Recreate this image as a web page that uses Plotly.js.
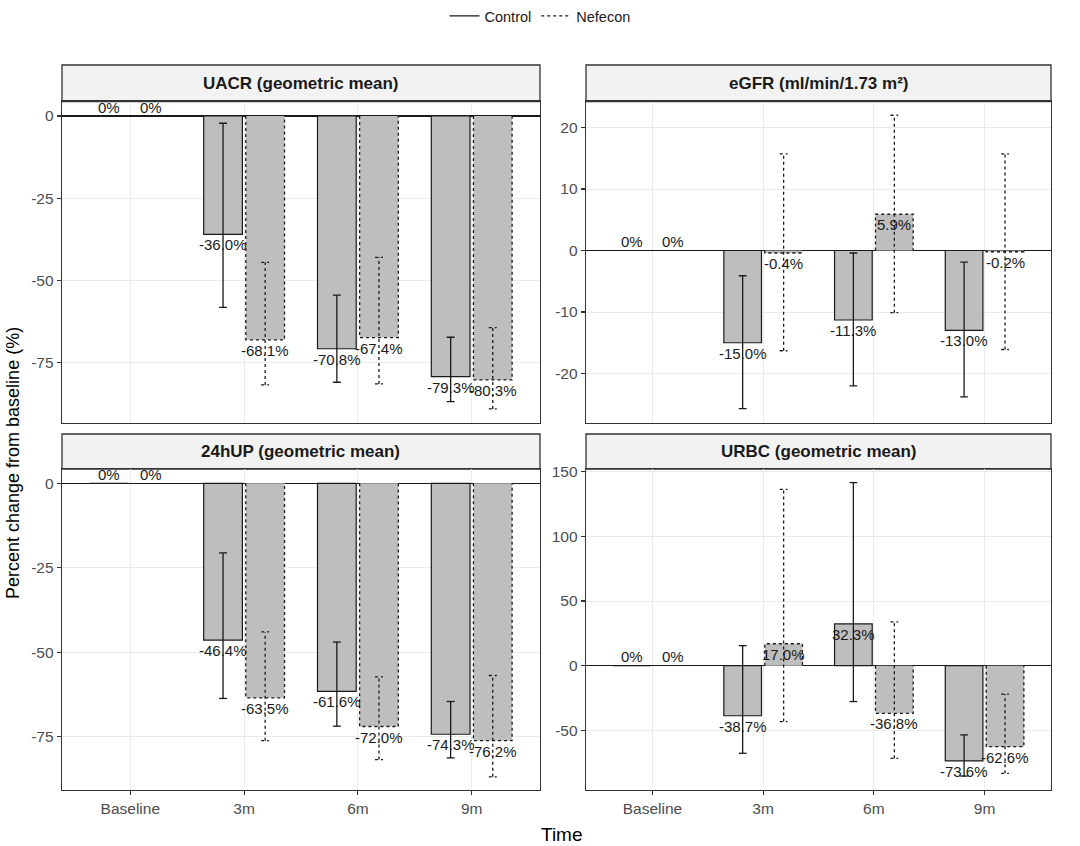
<!DOCTYPE html>
<html>
<head>
<meta charset="utf-8">
<script src="https://cdn.plot.ly/plotly-3.0.1.min.js"></script>
<style>html,body{margin:0;padding:0;background:#fff;}#chart{width:1080px;height:846px;}</style>
</head>
<body>
<div id="chart"></div>
<script>
// ---- data ----
const cats = ['Baseline', '3m', '6m', '9m'];
const panelTitles = ['UACR (geometric mean)', 'eGFR (ml/min/1.73 m\u00b2)', '24hUP (geometric mean)', 'URBC (geometric mean)'];
const seriesNames = ['Control', 'Nefecon'];

const uacrCtrl = [0, -36.0, -70.8, -79.3];
const uacrCtrlLow = [null, -58.2, -81.0, -86.9];
const uacrCtrlHigh = [null, -2.2, -54.5, -67.3];
const uacrNef = [0, -68.1, -67.4, -80.3];
const uacrNefLow = [null, -81.8, -81.5, -89.1];
const uacrNefHigh = [null, -44.5, -43.0, -64.4];

const egfrCtrl = [0, -15.0, -11.3, -13.0];
const egfrCtrlLow = [null, -25.7, -22.0, -23.8];
const egfrCtrlHigh = [null, -4.1, -0.4, -1.9];
const egfrNef = [0, -0.4, 5.9, -0.2];
const egfrNefLow = [null, -16.3, -10.1, -16.1];
const egfrNefHigh = [null, 15.7, 22.0, 15.7];

const upCtrl = [0, -46.4, -61.6, -74.3];
const upCtrlLow = [null, -63.7, -71.9, -81.3];
const upCtrlHigh = [null, -20.6, -47.0, -64.6];
const upNef = [0, -63.5, -72.0, -76.2];
const upNefLow = [null, -76.2, -81.8, -86.9];
const upNefHigh = [null, -44.0, -57.3, -56.9];

const urbcCtrl = [0, -38.7, 32.3, -73.6];
const urbcCtrlLow = [null, -67.7, -27.7, -85.3];
const urbcCtrlHigh = [null, 15.5, 141.6, -53.5];
const urbcNef = [0, 17.0, -36.8, -62.6];
const urbcNefLow = [null, -43.2, -71.6, -83.2];
const urbcNefHigh = [null, 136.4, 33.9, -21.9];

const yTicks = [
  [0, -25, -50, -75],
  [20, 10, 0, -10, -20],
  [0, -25, -50, -75],
  [150, 100, 50, 0, -50]
];

// ---- build ----
const panels = [
  {ctrl: uacrCtrl, cl: uacrCtrlLow, ch: uacrCtrlHigh, nef: uacrNef, nl: uacrNefLow, nh: uacrNefHigh, yr: [-93.3, 4.35]},
  {ctrl: egfrCtrl, cl: egfrCtrlLow, ch: egfrCtrlHigh, nef: egfrNef, nl: egfrNefLow, nh: egfrNefHigh, yr: [-28.0, 24.2]},
  {ctrl: upCtrl, cl: upCtrlLow, ch: upCtrlHigh, nef: upNef, nl: upNefLow, nh: upNefHigh, yr: [-90.8, 4.24]},
  {ctrl: urbcCtrl, cl: urbcCtrlLow, ch: urbcCtrlHigh, nef: urbcNef, nl: urbcNefLow, nh: urbcNefHigh, yr: [-96.1, 152.1]}
];

const W = 1080, H = 846;
const xDom = [[62 / W, 540 / W], [586 / W, 1051 / W], [62 / W, 540 / W], [586 / W, 1051 / W]];
const yDom = [[(H - 422.7) / H, (H - 101.7) / H], [(H - 422.7) / H, (H - 101.7) / H],
              [(H - 790) / H, (H - 469) / H], [(H - 790) / H, (H - 469) / H]];
const stripY = [[(H - 101.7) / H, (H - 65) / H], [(H - 101.7) / H, (H - 65) / H],
                [(H - 469) / H, (H - 434) / H], [(H - 469) / H, (H - 434) / H]];

const OFF = 0.185, BW = 0.34, CAP = 0.035;
const idx = cats.map((c, i) => i);
const barFill = '#bebebe';

const traces = [];
const annotations = [];
const shapes = [];
const layout = {
  width: W, height: H,
  margin: {l: 0, r: 0, t: 0, b: 0},
  paper_bgcolor: '#fff', plot_bgcolor: '#fff',
  font: {family: 'Liberation Sans, Arial, sans-serif', color: '#1a1a1a'},
  barmode: 'overlay',
  showlegend: true,
  legend: {orientation: 'h', x: 0.5, xanchor: 'center', y: 1.0, yanchor: 'top',
           font: {size: 14.5, color: '#1a1a1a'}, itemwidth: 30, traceorder: 'normal'},
  annotations: annotations,
  shapes: shapes
};

function errPath(xs, lo, hi) {
  const x = [], y = [];
  xs.forEach((xc, i) => {
    if (lo[i] === null || hi[i] === null) return;
    x.push(xc, xc, null, xc - CAP, xc + CAP, null, xc - CAP, xc + CAP, null);
    y.push(lo[i], hi[i], null, hi[i], hi[i], null, lo[i], lo[i], null);
  });
  return {x, y};
}

function outlinePath(xs, vals) {
  const x = [], y = [];
  xs.forEach((xc, i) => {
    if (vals[i] === 0) return;
    const a = xc - BW / 2, b = xc + BW / 2;
    x.push(a, a, b, b, null);
    y.push(0, vals[i], vals[i], 0, null);
  });
  return {x, y};
}

function fmt(v) { return v === 0 ? '0%' : v.toFixed(1) + '%'; }

panels.forEach((p, k) => {
  const sfx = k === 0 ? '' : String(k + 1);
  const xa = 'x' + sfx, ya = 'y' + sfx;
  const xc = idx.map(i => i - OFF);
  const xn = idx.map(i => i + OFF);

  traces.push({type: 'bar', x: xc, y: p.ctrl, width: BW, xaxis: xa, yaxis: ya,
    marker: {color: barFill, line: {color: '#1a1a1a', width: 1.2}}, showlegend: false, hoverinfo: 'y', name: seriesNames[0]});
  traces.push({type: 'bar', x: xn, y: p.nef, width: BW, xaxis: xa, yaxis: ya,
    marker: {color: barFill, line: {color: barFill, width: 0}}, showlegend: false, hoverinfo: 'y', name: seriesNames[1]});

  const ol = outlinePath(xn, p.nef);
  traces.push({type: 'scatter', mode: 'lines', x: ol.x, y: ol.y, xaxis: xa, yaxis: ya,
    line: {color: '#1a1a1a', width: 1.3, dash: 'dot'}, showlegend: false, hoverinfo: 'skip', connectgaps: false});

  const ec = errPath(xc, p.cl, p.ch);
  traces.push({type: 'scatter', mode: 'lines', x: ec.x, y: ec.y, xaxis: xa, yaxis: ya,
    line: {color: '#1a1a1a', width: 1.3}, name: seriesNames[0], legendgroup: 'c',
    showlegend: k === 0, hoverinfo: 'skip', connectgaps: false});
  const en = errPath(xn, p.nl, p.nh);
  traces.push({type: 'scatter', mode: 'lines', x: en.x, y: en.y, xaxis: xa, yaxis: ya,
    line: {color: '#1a1a1a', width: 1.3, dash: 'dot'}, name: seriesNames[1], legendgroup: 'n',
    showlegend: k === 0, hoverinfo: 'skip', connectgaps: false});

  // value labels
  [[xc, p.ctrl], [xn, p.nef]].forEach(([xs, vals]) => {
    xs.forEach((x, i) => {
      annotations.push({x: x, y: vals[i], xref: xa, yref: ya, text: fmt(vals[i]), showarrow: false,
        xanchor: 'center', yanchor: 'middle', yshift: vals[i] === 0 ? 9 : -10.5,
        font: {size: 15, color: '#1a1a1a'}});
    });
  });

  const bottomRow = k >= 2;
  layout['xaxis' + sfx] = {
    domain: xDom[k], anchor: ya, range: [-0.6, 3.6], tickvals: idx, ticktext: cats,
    showticklabels: bottomRow, ticks: bottomRow ? 'outside' : '', ticklen: 4, tickcolor: '#333', tickwidth: 1.1,
    tickfont: {size: 15.5, color: '#4d4d4d'},
    showgrid: true, gridcolor: '#ebebeb', gridwidth: 1,
    showline: true, mirror: true, linecolor: '#333', linewidth: 1.3, zeroline: false, fixedrange: true
  };
  layout['yaxis' + sfx] = {
    domain: yDom[k], anchor: xa, range: p.yr, tickvals: yTicks[k], ticktext: yTicks[k].map(String),
    ticks: 'outside', ticklen: 4, tickcolor: '#333', tickwidth: 1.1,
    tickfont: {size: 15.5, color: '#4d4d4d'},
    showgrid: true, gridcolor: '#ebebeb', gridwidth: 1,
    zeroline: true, zerolinecolor: '#1a1a1a', zerolinewidth: 1.4,
    showline: true, mirror: true, linecolor: '#333', linewidth: 1.3, fixedrange: true
  };

  // strip
  shapes.push({type: 'rect', xref: 'paper', yref: 'paper', x0: xDom[k][0], x1: xDom[k][1],
    y0: stripY[k][0], y1: stripY[k][1], fillcolor: '#f2f2f2', line: {color: '#333', width: 1.3}, layer: 'below'});
  annotations.push({xref: 'paper', yref: 'paper', x: (xDom[k][0] + xDom[k][1]) / 2, y: (stripY[k][0] + stripY[k][1]) / 2,
    text: '<b>' + panelTitles[k] + '</b>', showarrow: false, xanchor: 'center', yanchor: 'middle',
    font: {size: 17, color: '#1a1a1a'}});
});

// axis titles
annotations.push({xref: 'paper', yref: 'paper', x: 562 / W, y: (H - 834) / H, text: 'Time', showarrow: false,
  xanchor: 'center', yanchor: 'middle', font: {size: 19, color: '#000'}});
annotations.push({xref: 'paper', yref: 'paper', x: 13 / W, y: (H - 463) / H, text: 'Percent change from baseline (%)',
  showarrow: false, textangle: -90, xanchor: 'center', yanchor: 'middle', font: {size: 18, color: '#000'}});

Plotly.newPlot('chart', traces, layout, {displayModeBar: false, staticPlot: true});
</script>
</body>
</html>
